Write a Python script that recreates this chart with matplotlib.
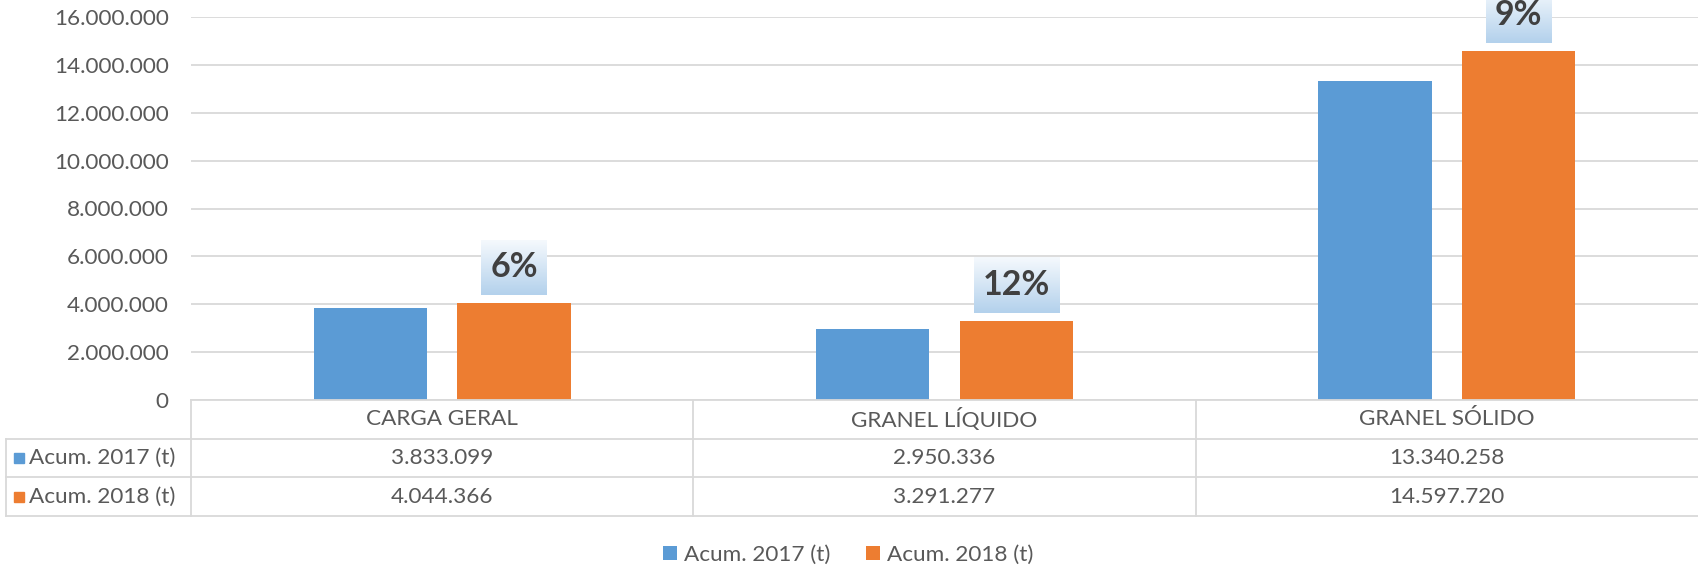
import numpy as np
import matplotlib
matplotlib.use("Agg")
import matplotlib.pyplot as plt
from matplotlib.transforms import blended_transform_factory
from matplotlib.colors import LinearSegmentedColormap

categories = ["CARGA GERAL", "GRANEL LÍQUIDO", "GRANEL SÓLIDO"]
series_names = ["Acum. 2017 (t)", "Acum. 2018 (t)"]
acum_2017 = [3833099, 2950336, 13340258]
acum_2018 = [4044366, 3291277, 14597720]
yticks = [0, 2000000, 4000000, 6000000, 8000000, 10000000, 12000000, 14000000, 16000000]

blue = "#5B9BD5"
orange = "#ED7D31"
txt = "#595959"
grid = "#D9D9D9"
fs = 16.2

plt.rcParams["font.family"] = ["Lato", "DejaVu Sans"]

def fmt(v):
    return f"{int(v):,}".replace(",", ".")

W, H = 1698, 566
fig = plt.figure(figsize=(W / 100, H / 100), dpi=100)
ax = fig.add_axes([191 / W, 1 - 400 / H, 1507 / W, 383 / H])

x = np.arange(len(categories))
off = 0.143
bw = 0.225
b1 = ax.bar(x - off, acum_2017, bw, color=blue, label=series_names[0], zorder=2)
b2 = ax.bar(x + off, acum_2018, bw, color=orange, label=series_names[1], zorder=2)

ax.set_xlim(-0.5, 2.5)
ax.set_ylim(0, 16000000)
ax.set_yticks(yticks)
ax.set_yticklabels([fmt(v) for v in yticks], color=txt, fontsize=fs)
ax.tick_params(axis="y", length=0, pad=16)
ax.set_xticks([])
ax.yaxis.grid(True, color=grid, lw=1.3, zorder=0)
ax.set_axisbelow(True)
for s in ["top", "right", "left"]:
    ax.spines[s].set_visible(False)
ax.spines["bottom"].set_color(grid)
ax.spines["bottom"].set_linewidth(1.3)

# data table under the axis
row_h = 38.7 / 383
lab_left = (6 - 191) / 1507
tr = blended_transform_factory(ax.transData, ax.transAxes)
for k in range(1, 4):
    ax.plot([lab_left, 1], [-k * row_h, -k * row_h], transform=ax.transAxes,
            clip_on=False, color=grid, lw=1.3)
ax.plot([lab_left, lab_left], [-row_h, -3 * row_h], transform=ax.transAxes,
        clip_on=False, color=grid, lw=1.3)
ax.plot([0, 0], [0, -3 * row_h], transform=ax.transAxes, clip_on=False, color=grid, lw=1.3)
for xb in [0.5, 1.5]:
    ax.plot([xb, xb], [0, -3 * row_h], transform=tr, clip_on=False, color=grid, lw=1.3)

for i, c in enumerate(categories):
    ax.text(i, -0.5 * row_h, c, transform=tr, ha="center", va="center", color=txt, fontsize=fs)
    ax.text(i, -1.5 * row_h, fmt(acum_2017[i]), transform=tr, ha="center", va="center",
            color=txt, fontsize=fs)
    ax.text(i, -2.5 * row_h, fmt(acum_2018[i]), transform=tr, ha="center", va="center",
            color=txt, fontsize=fs)

for k, (name, col) in enumerate(zip(series_names, [blue, orange])):
    yc = -(1.5 + k) * row_h
    ax.plot([lab_left + 12.5 / 1507], [yc], marker="s", ms=6.5, color=col,
            transform=ax.transAxes, clip_on=False)
    ax.text(lab_left + 23 / 1507, yc, name, transform=ax.transAxes, ha="left", va="center",
            color=txt, fontsize=fs)

# growth labels above the 2018 bars
cmap = LinearSegmentedColormap.from_list("g", ["#B3D1EC", "#F5F9FD"])
grad = np.linspace(0, 1, 64).reshape(-1, 1)
renderer = fig.canvas.get_renderer()
inv = ax.transData.inverted()
for i in range(len(categories)):
    pct = round((acum_2018[i] / acum_2017[i] - 1) * 100)
    xc = i + off
    t = ax.annotate(f"{pct}%", xy=(xc, acum_2018[i]), xytext=(0, 36 * 0.72),
                    textcoords="offset points", ha="center", va="center",
                    fontsize=24.5, fontweight="bold", color="#404040", zorder=5,
                    annotation_clip=False)
    ext = t.get_window_extent(renderer)
    px, py = ax.transData.transform((xc, acum_2018[i]))
    wpx = ext.width + 18
    (x0, y0) = inv.transform((px - wpx / 2, py + 8))
    (x1, y1) = inv.transform((px + wpx / 2, py + 63))
    ax.imshow(grad, extent=[x0, x1, y0, y1], origin="lower", cmap=cmap, aspect="auto",
              clip_on=False, zorder=4)

ax.set_xlim(-0.5, 2.5)
ax.set_ylim(0, 16000000)

leg = fig.legend(handles=[b1, b2], loc="center", bbox_to_anchor=(848 / W, 1 - 555 / H),
                 ncol=2, frameon=False, handlelength=0.62, handleheight=0.62,
                 handletextpad=0.3, columnspacing=1.6, fontsize=fs)
for tx in leg.get_texts():
    tx.set_color(txt)

fig.savefig("out.png", dpi=100)
